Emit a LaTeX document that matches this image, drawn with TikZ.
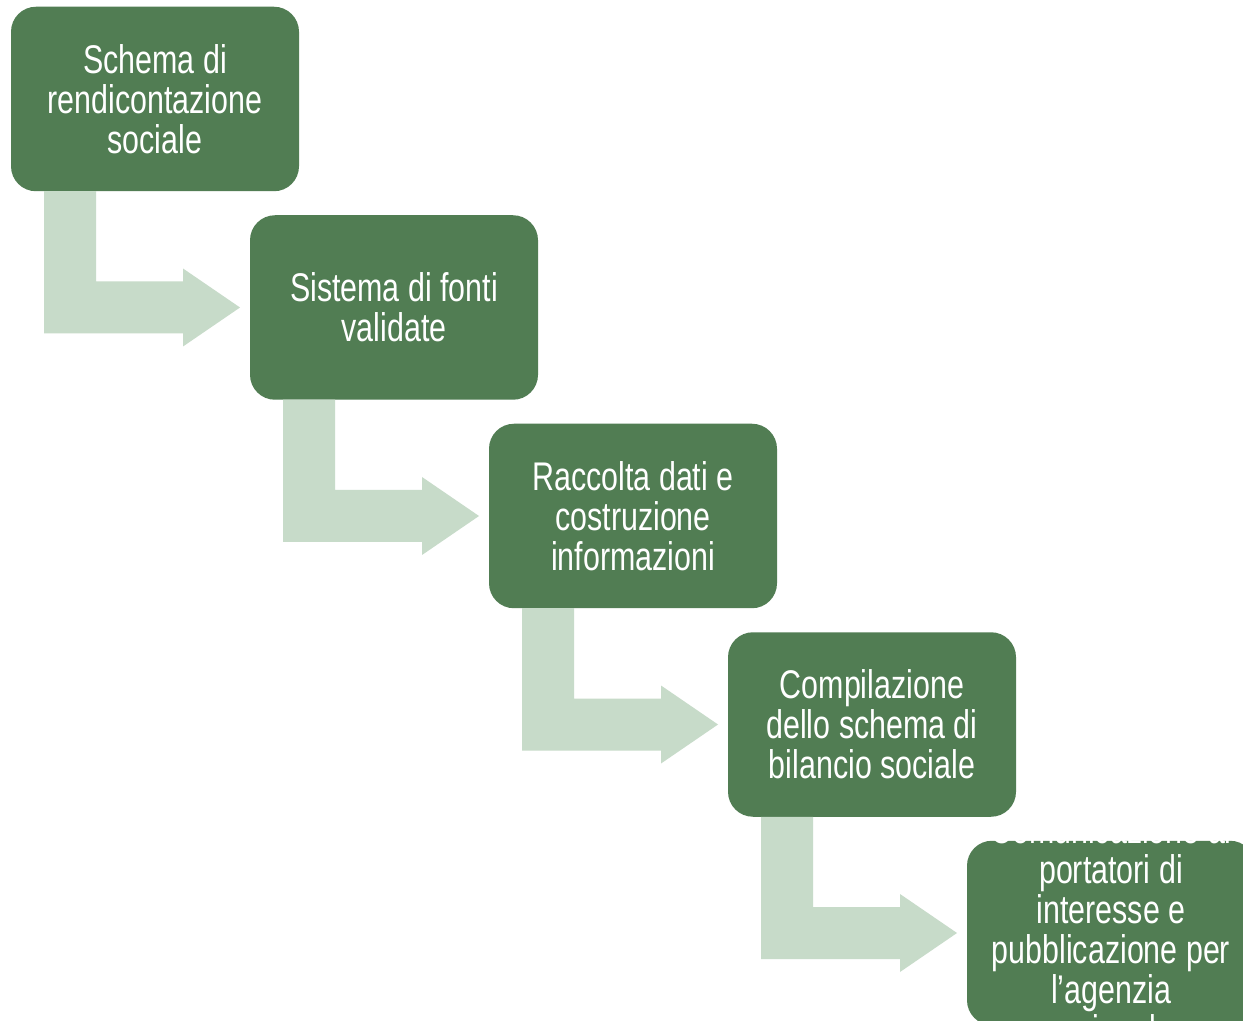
\documentclass[tikz,border=0pt]{standalone}
\usepackage{fontspec}
\setmainfont[FakeStretch=0.76]{Liberation Sans}
\usepackage{xcolor}
\usepackage{tikz}
\usetikzlibrary{positioning,calc}
\definecolor{stepgreen}{RGB}{81,125,83}
\definecolor{arrowgreen}{RGB}{199,219,201}

% bent block arrow from the bottom of #1 to the left side of #2
\newcommand{\bentarrow}[2]{%
  \coordinate (tip) at ($(#2.west)+(-10,0)$);
  \coordinate (bar) at ($(#1.south west)+(33,0)$);
  \fill[arrowgreen] (bar) -- ++(52,0) |- ($(tip)+(-57,-26)$) -- ($(tip)+(-57,-39)$)
    -- (tip) -- ($(tip)+(-57,39)$) -- ($(tip)+(-57,26)$) -| (bar) -- cycle;}

\begin{document}
\begin{tikzpicture}[x=0.5pt,y=-0.5pt,
  stepbox/.style={fill=stepgreen,rounded corners=12.5pt,minimum width=144pt,minimum height=92.25pt,
    outer sep=0pt,inner sep=0pt,align=center,text=white,font=\fontsize{20pt}{20pt}\selectfont},
  steptext/.style={align=center,text=white,inner sep=0pt,font=\fontsize{20pt}{20pt}\selectfont}]
\useasboundingbox (0,0) rectangle (1243,1021);
\clip (0,0) rectangle (1243,1021);
\fill[white] (0,0) rectangle (1243,1021);
\node[stepbox] (schema) at (155,99) {Schema di\\rendicontazione\\sociale};
\node[stepbox,below right=12pt and -24.5pt of schema] (fonti) {Sistema di fonti\\validate};
\node[stepbox,below right=12pt and -24.5pt of fonti] (raccolta) {Raccolta dati e\\costruzione\\informazioni};
\node[stepbox,below right=12pt and -24.5pt of raccolta] (compila) {Compilazione\\dello schema di\\bilancio sociale};
\node[stepbox,below right=12pt and -24.5pt of compila] (comunica) {};
\begin{scope}
  \clip ($(comunica.north west)+(-10,-4)$) rectangle (1243,1021);
  \node[steptext] (comunicatxt) at (comunica.center)
    {Comunicazione ai\\portatori di\\interesse e\\pubblicazione per\\l’agenzia\\regionale};
\end{scope}
\bentarrow{schema}{fonti}
\bentarrow{fonti}{raccolta}
\bentarrow{raccolta}{compila}
\bentarrow{compila}{comunica}
\end{tikzpicture}
\end{document}
